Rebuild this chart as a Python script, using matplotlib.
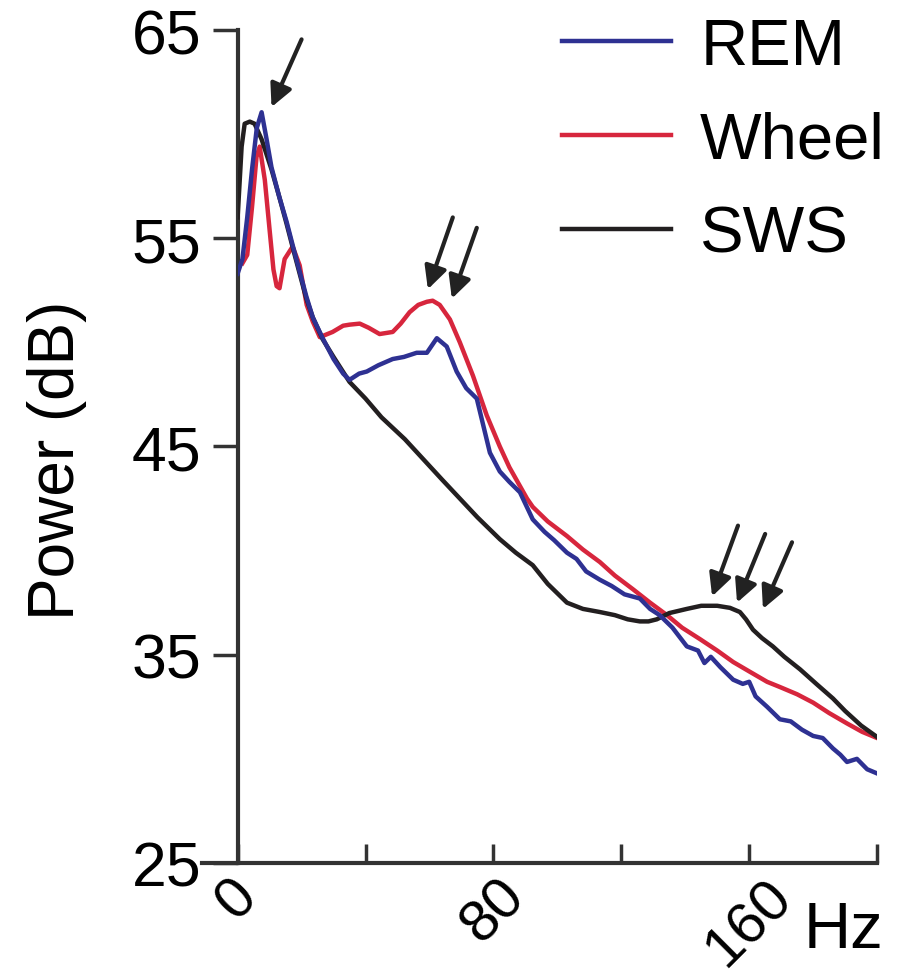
import matplotlib
matplotlib.use("Agg")
import matplotlib.pyplot as plt

plt.rcParams['font.family'] = ['Liberation Sans', 'DejaVu Sans']

# REM (blue)
rem_hz = [0, 1.5, 3, 4.5, 6, 7.5, 9, 10.6, 13, 15.3, 17.5, 19.4, 21.5, 23.5, 26.6,
          30, 33, 35, 38, 40.4, 44, 48.5, 52, 56, 59.2, 62.3, 65.4, 68.5, 71.5, 74.8,
          78.9, 82, 85, 88.3, 92.3, 96, 99, 103, 106, 109, 113.3, 117, 121, 125.8,
          129, 132, 136, 140.5, 144, 146, 148, 151, 155, 158, 160, 162, 165.6, 169.6,
          173, 176.5, 180, 183, 186.2, 188.5, 190.6, 193.7, 196.9, 200]
rem_db = [53.3, 54.0, 56.0, 58.3, 60.3, 61.05, 59.8, 58.4, 57.0, 55.8, 54.5, 53.4, 52.2, 51.2, 50.2,
          49.2, 48.5, 48.2, 48.5, 48.6, 48.9, 49.2, 49.3, 49.5, 49.5, 50.2, 49.8, 48.6, 47.8, 47.3,
          44.7, 43.8, 43.3, 42.8, 41.5, 40.9, 40.5, 39.9, 39.6, 39.0, 38.6, 38.3, 37.9, 37.7,
          37.2, 36.9, 36.3, 35.4, 35.2, 34.6, 34.9, 34.4, 33.8, 33.6, 33.7, 33.0, 32.5, 31.9,
          31.8, 31.4, 31.1, 31.0, 30.5, 30.2, 29.85, 30.0, 29.5, 29.3]

# Wheel (red)
wheel_hz = [1.5, 3, 4.5, 5.9, 6.9, 8.5, 10, 11.2, 12.2, 13.1, 14.7, 17.2, 19.4, 21.6, 23.5,
            25.7, 29.7, 33, 35, 38.2, 41, 44.4, 48.5, 51, 53.8, 56.5, 59.2, 61, 63.2, 66.4,
            69.5, 73.6, 77.9, 82, 85, 90.5, 92.3, 97, 103, 108, 113.3, 118, 123.6, 129,
            134.3, 139, 144.6, 150, 155, 160, 165.6, 169.6, 175, 180, 185, 190.6, 195.3, 200]
wheel_db = [53.8, 54.2, 56.5, 58.9, 59.4, 57.8, 55.4, 53.5, 52.7, 52.6, 54.0, 54.6, 53.7, 51.8, 51.0,
            50.25, 50.5, 50.8, 50.85, 50.9, 50.7, 50.4, 50.5, 50.9, 51.45, 51.8, 51.95, 52.0, 51.8, 51.1,
            50.0, 48.4, 46.5, 45.0, 44.0, 42.5, 42.1, 41.4, 40.7, 40.05, 39.45, 38.8, 38.15, 37.5,
            36.9, 36.3, 35.75, 35.2, 34.65, 34.2, 33.7, 33.45, 33.1, 32.7, 32.2, 31.7, 31.3, 31.0]

# SWS (black)
sws_hz = [0, 1.25, 2.2, 3.8, 5.3, 7.5, 10.6, 13, 15.3, 17.5, 19.4, 21.5, 23.5, 26.6, 30,
          35, 40, 45, 52.3, 58, 64, 69.5, 75, 82, 87, 92.3, 97, 103, 108, 113.3, 118,
          122, 125.8, 128.5, 131.1, 135, 140.5, 145, 150, 154, 157.1, 159, 161.2, 164,
          167.4, 171, 175.9, 181, 186.2, 190, 195, 200]
sws_db = [56.0, 59.4, 60.5, 60.6, 60.5, 59.75, 58.3, 57.0, 55.7, 54.4, 53.3, 52.1, 51.2, 50.15, 49.3,
          48.1, 47.3, 46.4, 45.35, 44.4, 43.4, 42.5, 41.6, 40.55, 39.9, 39.3, 38.4, 37.5, 37.2, 37.05, 36.9,
          36.7, 36.6, 36.6, 36.7, 37.0, 37.2, 37.35, 37.35, 37.25, 37.05, 36.7, 36.2, 35.8,
          35.4, 34.9, 34.3, 33.6, 32.9, 32.3, 31.6, 31.05]

x_ticks = [0, 40, 80, 120, 160, 200]
x_labels = ['0', '', '80', '', '160', '']
y_ticks = [25, 35, 45, 55, 65]

# arrows: (tail_hz, tail_db, tip_hz, tip_db)
arrows = [(20, 64.55, 10.6, 61.3),
          (67.3, 56.0, 59.5, 52.55), (74.8, 55.5, 67.0, 52.1),
          (156.5, 41.2, 148.4, 37.8), (165.0, 40.8, 156.2, 37.5), (173.4, 40.4, 164.3, 37.2)]

fig = plt.figure(figsize=(9.07, 9.78), dpi=100)
ax = fig.add_axes([0.262, 0.1166, 0.705, 0.8517])

ax.plot(sws_hz, sws_db, color='#231f20', lw=3.2, label='SWS', zorder=3)
ax.plot(wheel_hz, wheel_db, color='#d7263d', lw=3.2, label='Wheel', zorder=2)
ax.plot(rem_hz, rem_db, color='#2e3192', lw=3.2, label='REM', zorder=4)

for tx, ty, hx, hy in arrows:
    ax.annotate('', xy=(hx, hy), xytext=(tx, ty),
                arrowprops=dict(arrowstyle='-|>', color='#222222', lw=3, mutation_scale=34,
                                shrinkA=0, shrinkB=0))

ax.set_xlim(0, 200)
ax.set_ylim(25, 65)
ax.spines['top'].set_visible(False)
ax.spines['right'].set_visible(False)
ax.spines['left'].set_linewidth(3)
ax.spines['bottom'].set_linewidth(3)
ax.spines['left'].set_color('#333333')
ax.spines['bottom'].set_color('#333333')
ax.spines['bottom'].set_bounds(-11, 200)

ax.set_xticks(x_ticks)
ax.set_xticklabels(x_labels, rotation=45, ha='center', va='top')
ax.set_yticks(y_ticks)
ax.tick_params(axis='x', direction='in', length=14, width=2.5, pad=4, labelsize=42, color='#333333')
ax.tick_params(axis='y', direction='out', length=18, width=2.5, pad=8, labelsize=45, color='#333333')

ax.text(1.01, -0.08, 'Hz', transform=ax.transAxes, ha='right', va='center', fontsize=47)
ax.text(-0.283, 0.485, 'Power (dB)', transform=ax.transAxes, ha='center', va='center',
        rotation=90, fontsize=46)

handles, labels = ax.get_legend_handles_labels()
order = [2, 1, 0]
ax.legend([handles[i] for i in order], [labels[i] for i in order],
          loc='upper right', bbox_to_anchor=(1.0125, 1.016), frameon=False, fontsize=47,
          handlelength=1.66, handletextpad=0.45, labelspacing=0.52, borderaxespad=0,
          borderpad=0)

fig.savefig('out.png', dpi=100)
